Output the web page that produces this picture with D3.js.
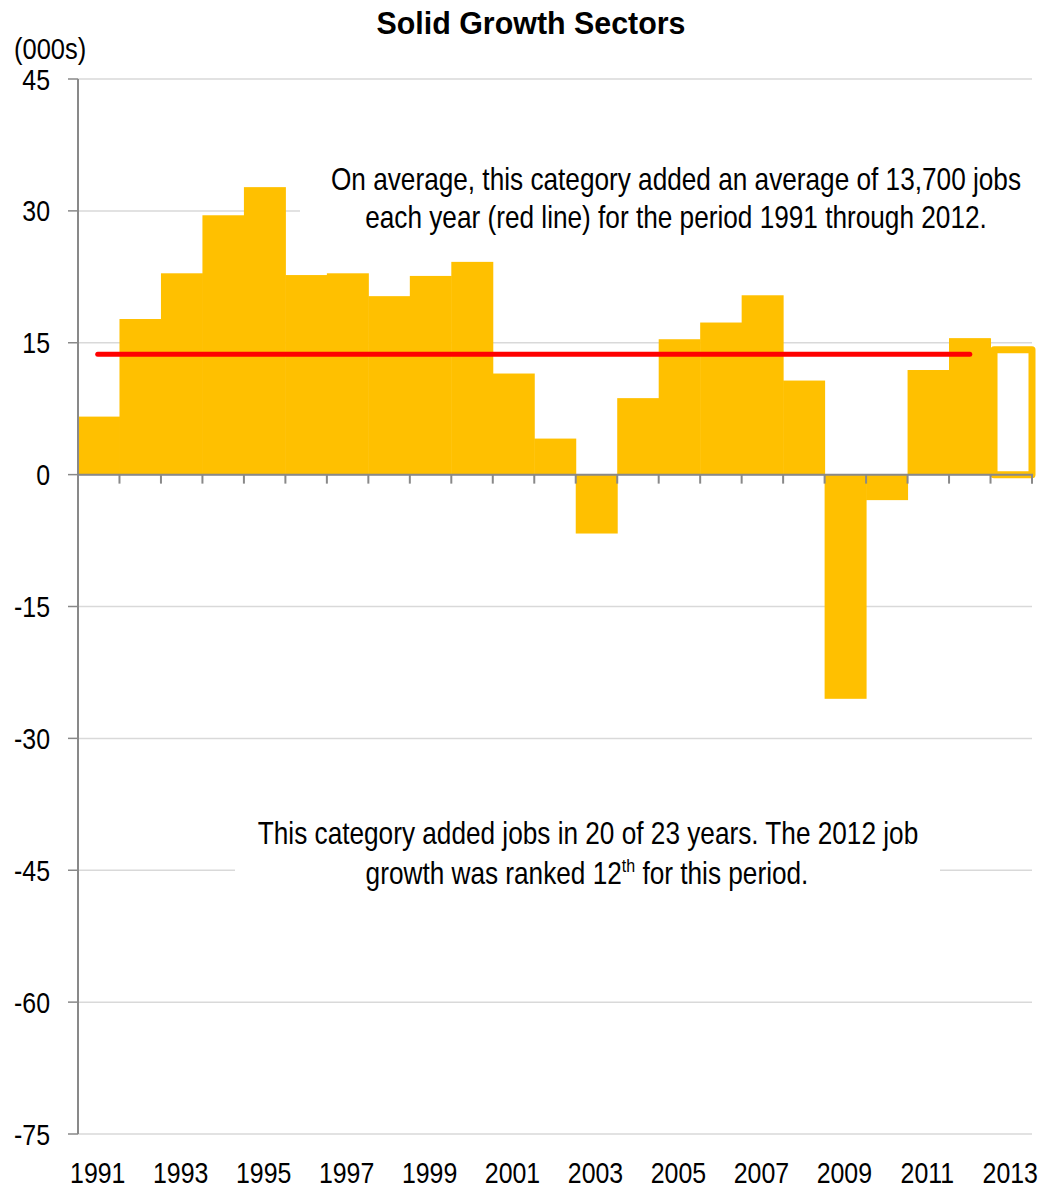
<!DOCTYPE html>
<html><head><meta charset="utf-8">
<script src="https://cdn.jsdelivr.net/npm/d3@7"></script>
<style>body{margin:0;background:#fff}svg{display:block}text{font-family:"Liberation Sans",Arial,sans-serif;fill:#000}</style>
</head><body>
<svg id="c" width="1054" height="1189"></svg>
<script>
const years = d3.range(1991, 2014).map(String);
const values = [6.6,17.7,22.9,29.5,32.7,22.7,22.9,20.3,22.6,24.2,11.5,4.1,-6.7,8.7,15.4,17.3,20.4,10.7,-25.5,-2.9,11.9,15.5];
const value2013 = 14.2;
const average = 13.7;
const yTicks = [45,30,15,0,-15,-30,-45,-60,-75];
const xLabels = years.filter((d,i)=>i%2===0);

const svg = d3.select("#c");
const x = d3.scaleBand().domain(years).range([78,1032]).padding(0);
const y = d3.scaleLinear().domain([-75,45]).range([1134,79]);

function label(x0,y0,txt,size,anchor,sx){
  return svg.append("text").attr("transform",`translate(${x0},${y0}) scale(${sx},1)`)
    .attr("text-anchor",anchor||"middle").attr("font-size",size).text(txt);
}

// gridlines
svg.append("g").selectAll("line").data(yTicks).join("line")
  .attr("x1",78).attr("x2",1032).attr("y1",d=>y(d)).attr("y2",d=>y(d))
  .attr("stroke","#d9d9d9").attr("stroke-width",1.5);

// bars
svg.append("g").selectAll("rect").data(values).join("rect")
  .attr("x",(d,i)=>x(years[i])).attr("width",x.bandwidth()+0.5)
  .attr("y",d=>y(Math.max(0,d))).attr("height",d=>Math.abs(y(d)-y(0)))
  .attr("fill","#FFC000");
// 2013 outlined bar
svg.append("rect").attr("x",x("2013")+3.5).attr("width",x.bandwidth()-3.5)
  .attr("y",y(value2013)).attr("height",y(0)-y(value2013))
  .attr("fill","#fff").attr("stroke","#FFC000").attr("stroke-width",7).attr("stroke-linejoin","round");
// redraw 2012 bar on top of outline
svg.append("rect").attr("x",x("2012")).attr("width",x.bandwidth())
  .attr("y",y(values[21])).attr("height",y(0)-y(values[21])).attr("fill","#FFC000");

// average line
svg.append("line").attr("x1",x("1991")+x.bandwidth()/2-1).attr("x2",x("2012")+x.bandwidth()/2)
  .attr("y1",y(average)).attr("y2",y(average))
  .attr("stroke","#FF0000").attr("stroke-width",5).attr("stroke-linecap","round");

// axes
const axisColor = "#898989";
svg.append("line").attr("x1",78).attr("x2",78).attr("y1",y(45)).attr("y2",y(-75)).attr("stroke",axisColor).attr("stroke-width",2);
svg.append("g").selectAll("line").data(yTicks).join("line")
  .attr("x1",68).attr("x2",78).attr("y1",d=>y(d)).attr("y2",d=>y(d)).attr("stroke",axisColor).attr("stroke-width",1.5);
svg.append("line").attr("x1",78).attr("x2",1033).attr("y1",y(0)).attr("y2",y(0)).attr("stroke",axisColor).attr("stroke-width",2);
const bounds = years.map(d=>x(d)).concat([x("2013")+x.bandwidth()]);
svg.append("g").selectAll("line").data(bounds).join("line")
  .attr("x1",d=>d).attr("x2",d=>d).attr("y1",y(0)).attr("y2",y(0)+9).attr("stroke",axisColor).attr("stroke-width",2);

// y labels
const TS = 30, TSX = 0.83;
yTicks.forEach(t=>label(50,y(t)+10.5,String(t),TS,"end",TSX));
label(14,59,"(000s)",TS,"start",0.85);
// x labels
xLabels.forEach(d=>label(x(d)+x.bandwidth()/2-1,1183,d,TS,"middle",TSX));

// title
svg.append("text").attr("transform","translate(531,34) scale(0.95,1)").attr("text-anchor","middle")
  .attr("font-size",32).attr("font-weight","bold").text("Solid Growth Sectors");

// annotation boxes
const AS = 31, ASX = 0.845;
svg.append("rect").attr("x",300).attr("y",155).attr("width",740).attr("height",85).attr("fill","#fff");
label(676,190,"On average, this category added an average of 13,700 jobs",AS,"middle",ASX);
label(676,228,"each year (red line) for the period 1991 through 2012.",AS,"middle",ASX);

svg.append("rect").attr("x",235).attr("y",805).attr("width",705).attr("height",90).attr("fill","#fff");
label(588,844,"This category added jobs in 20 of 23 years. The 2012 job",AS,"middle",ASX);
const t2 = svg.append("text").attr("transform",`translate(587,884) scale(${ASX},1)`).attr("text-anchor","middle").attr("font-size",AS);
t2.append("tspan").text("growth was ranked 12");
t2.append("tspan").attr("font-size",19).attr("dy",-12).text("th");
t2.append("tspan").attr("dy",12).text(" for this period.");
</script>
</body></html>
